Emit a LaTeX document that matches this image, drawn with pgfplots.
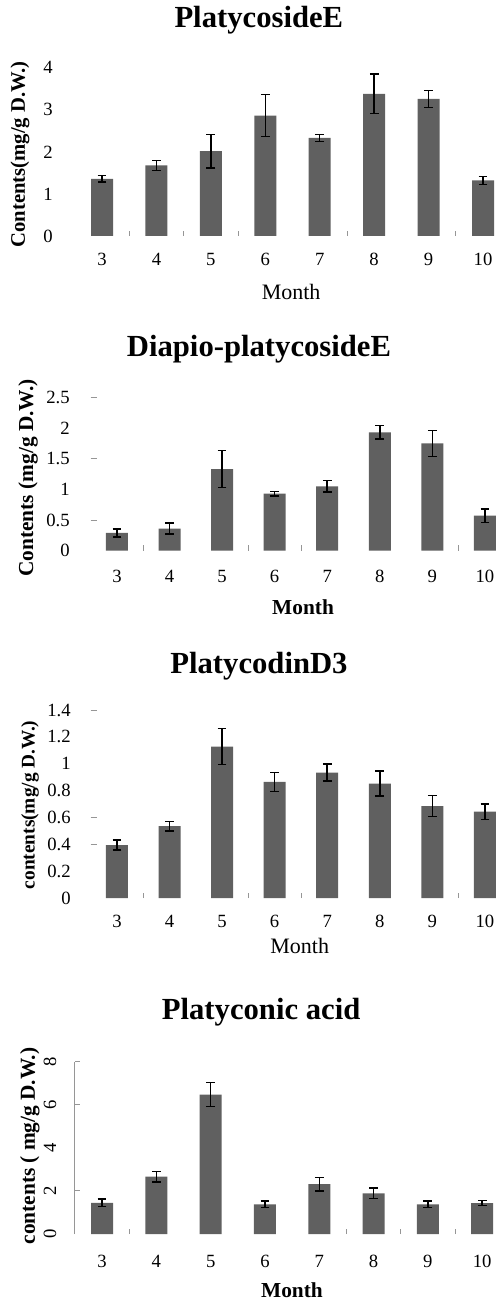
\documentclass[border=0pt]{standalone}
\usepackage{pgfplots}
\usepackage{pgfplotstable}
\pgfplotsset{compat=1.18}
\usepackage{fontspec}
\setmainfont{Liberation Serif}
\definecolor{barc}{RGB}{96,96,96}
\definecolor{tickc}{RGB}{150,150,150}

\pgfplotstableread{
x y e
0 1.36 0.08
1 1.68 0.12
2 2.02 0.40
3 2.86 0.50
4 2.33 0.08
5 3.38 0.47
6 3.26 0.20
7 1.32 0.09
}\tA
\pgfplotstableread{
x y e
0 0.29 0.065
1 0.36 0.09
2 1.33 0.30
3 0.93 0.04
4 1.05 0.095
5 1.93 0.11
6 1.75 0.21
7 0.57 0.11
}\tB
\pgfplotstableread{
x y e
0 0.394 0.037
1 0.535 0.037
2 1.127 0.134
3 0.865 0.072
4 0.934 0.063
5 0.852 0.093
6 0.684 0.078
7 0.644 0.057
}\tC
\pgfplotstableread{
x y e
0 1.45 0.17
1 2.66 0.24
2 6.47 0.56
3 1.38 0.15
4 2.32 0.32
5 1.89 0.24
6 1.38 0.155
7 1.44 0.11
}\tD

\pgfplotsset{
  panel/.style={
    scale only axis,
    ybar, bar width=16.5pt,
    axis x line=bottom, axis y line=left,
    axis line style={draw=none,-},
    xtick=data, xticklabels={3,4,5,6,7,8,9,10},
    major tick length=0pt,
    ymin=0, xmin=-0.5,
    /pgf/number format/assume math mode=true,
    ticklabel style={font=\fontsize{14}{16}\selectfont, inner sep=0pt},
    xticklabel style={anchor=north},
    title style={font=\fontsize{23}{27}\selectfont\bfseries, anchor=base, inner sep=0pt},
    xlabel style={anchor=base, inner sep=0pt},
    ylabel style={anchor=center, inner sep=0pt},
    extra x tick style={major tick length=4pt, tick align=inside, tick style={draw=tickc, line width=0.6pt}},
    extra x tick labels={},
  },
  bars/.style={fill=barc, draw=none,
    error bars/.cd, y dir=both, y explicit,
    error bar style={black, line width=1.1pt},
    error mark options={black, rotate=90, mark size=3.3pt, line width=1pt}},
}

\begin{document}
\begin{tikzpicture}
\useasboundingbox (0,0) rectangle (374.25pt,-975.75pt);

% Panel 1
\begin{axis}[panel,
  at={(56.1pt,-177pt)}, anchor=south west,
  width=322.5pt, height=126.2pt,
  xmax=7.4, ymax=4, ytick={0,1,2,3,4},
  xticklabel style={yshift=-12.75pt},
  yticklabel style={anchor=east, xshift=-16.35pt},
  title={PlatycosideE},
  title style={at={(axis description cs:0.428,1.194)}},
  xlabel={Month},
  xlabel style={at={(axis description cs:0.503,-0.380)}, font=\fontsize{16.5}{19}\selectfont},
  ylabel={Contents(mg/g D.W.)},
  ylabel style={at={(axis description cs:-0.1274,0.484)}, font=\fontsize{15.5}{17}\selectfont\bfseries},
  extra x ticks={0.5,1.5,2.5,4.5,6.5},
]
\addplot[bars] table[x=x, y=y, y error=e] {\tA};
\end{axis}

% Panel 2
\begin{axis}[panel,
  at={(68.0pt,-413.0pt)}, anchor=south west,
  width=307.5pt, height=115.0pt,
  xmax=7.3, ymax=2.5, ytick={0,0.5,1,1.5,2,2.5},
  xticklabel style={yshift=-14.5pt},
  yticklabel style={anchor=east, xshift=-15.5pt},
  title={Diapio-platycosideE},
  title style={at={(axis description cs:0.4105,1.211)}},
  xlabel={Month},
  xlabel style={at={(axis description cs:0.518,-0.4175)}, font=\fontsize{16}{18}\selectfont\bfseries},
  ylabel={Contents (mg/g D.W.)},
  ylabel style={at={(axis description cs:-0.1529,0.474)}, font=\fontsize{16}{18}\selectfont\bfseries},
  extra x ticks={0.5,2.5,3.5,6.5},
  extra y ticks={0.5,1.5,2.5}, extra y tick labels={},
  extra y tick style={major tick length=4.5pt, tick align=inside, tick style={draw=tickc, line width=0.6pt}},
]
\addplot[bars] table[x=x, y=y, y error=e] {\tB};
\end{axis}

% Panel 3
\begin{axis}[panel,
  at={(68.0pt,-673.5pt)}, anchor=south west,
  width=307.5pt, height=141pt,
  xmax=7.3, ymax=1.4, ytick={0,0.2,0.4,0.6,0.8,1,1.2,1.4},
  xticklabel style={yshift=-12.75pt},
  yticklabel style={anchor=east, xshift=-14.8pt},
  title={PlatycodinD3},
  title style={at={(axis description cs:0.4105,1.149)}},
  xlabel={Month},
  xlabel style={at={(axis description cs:0.51,-0.2926)}, font=\fontsize{16.5}{19}\selectfont},
  ylabel={contents(mg/g D.W.)},
  ylabel style={at={(axis description cs:-0.148,0.495)}, font=\fontsize{14.5}{16}\selectfont\bfseries},
  extra x ticks={0.5,2.5,3.5,6.5},
  extra y ticks={0.4,0.6,1.4}, extra y tick labels={},
  extra y tick style={major tick length=4.5pt, tick align=inside, tick style={draw=tickc, line width=0.6pt}},
]
\addplot[bars] table[x=x, y=y, y error=e] {\tC};
\end{axis}

% Panel 4
\begin{axis}[panel,
  at={(56.2pt,-925.5pt)}, anchor=south west,
  width=321.7pt, height=129.2pt,
  xmax=7.4, ymax=8, ytick={0,2,4,6,8},
  y axis line style={draw=tickc, line width=0.8pt, -},
  xticklabel style={yshift=-15.75pt},
  yticklabel style={xshift=-18.7pt, rotate=90, anchor=center},
  title={Platyconic acid},
  title style={at={(axis description cs:0.434,1.201)}},
  xlabel={Month},
  xlabel style={at={(axis description cs:0.506,-0.3714)}, font=\fontsize{16}{18}\selectfont\bfseries},
  ylabel={contents ( mg/g D.W.)},
  ylabel style={at={(axis description cs:-0.1049,0.51)}, font=\fontsize{16}{18}\selectfont\bfseries},
  extra x ticks={0.5,4.5,5.5,6.5},
  extra y ticks={2,6,8}, extra y tick labels={},
  extra y tick style={major tick length=4pt, tick align=inside, tick style={draw=tickc, line width=0.8pt}},
]
\addplot[bars] table[x=x, y=y, y error=e] {\tD};
\end{axis}
\end{tikzpicture}
\end{document}
